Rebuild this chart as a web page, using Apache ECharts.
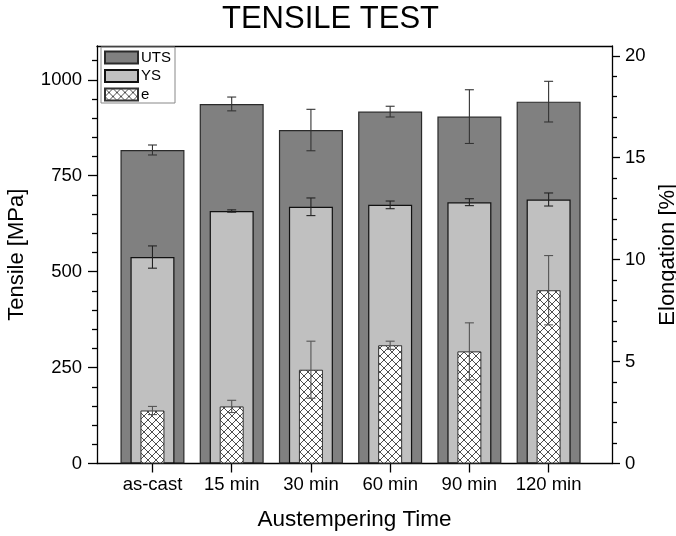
<!DOCTYPE html>
<html>
<head>
<meta charset="utf-8">
<script src="https://cdn.jsdelivr.net/npm/echarts@6/dist/echarts.min.js"></script>
<style>
html,body{margin:0;padding:0;background:#fff;}
#chart{width:676px;height:536px;}
</style>
</head>
<body>
<div id="chart"></div>
<script>
// ---- data ----
const categories = ['as-cast', '15 min', '30 min', '60 min', '90 min', '120 min'];
const utsValues = [817, 937, 869, 917, 904, 943];
const utsErrors = [13, 18, 54, 14, 70, 53];
const ysValues = [538, 658, 669, 674, 681, 688];
const ysErrors = [29, 3, 23, 10, 9, 17];
const elongValues = [2.6, 2.8, 4.6, 5.8, 5.5, 8.5];
const elongErrors = [0.2, 0.3, 1.4, 0.2, 1.4, 1.7];
const tensileTicks = [0, 250, 500, 750, 1000];
const tensileMinorTicks = [50, 100, 150, 200, 300, 350, 400, 450, 550, 600, 650, 700, 800, 850, 900, 950, 1050];
const elongTicks = [0, 5, 10, 15, 20];
const elongMinorTicks = [1, 2, 3, 4, 6, 7, 8, 9, 11, 12, 13, 14, 16, 17, 18, 19];

const FONT = '"Liberation Sans", Arial, sans-serif';
const positions = categories.map((c, i) => i + 1);

// hatch pattern for elongation bars
const hatch = document.createElement('canvas');
hatch.width = 8; hatch.height = 8;
(function () {
  const g = hatch.getContext('2d');
  g.fillStyle = '#ffffff';
  g.fillRect(0, 0, 8, 8);
  g.strokeStyle = '#3a3a3a';
  g.lineWidth = 0.9;
  g.beginPath();
  g.moveTo(0, 0); g.lineTo(8, 8);
  g.moveTo(8, 0); g.lineTo(0, 8);
  g.stroke();
})();

function pairs(vals) { return vals.map((v, i) => [positions[i], v]); }
function errData(vals, errs) { return vals.map((v, i) => [positions[i], v - errs[i], v + errs[i]]); }

function errorRender(color) {
  return function (params, api) {
    const x = api.value(0);
    const lo = api.coord([x, api.value(1)]);
    const hi = api.coord([x, api.value(2)]);
    const w = 4.5;
    const st = { stroke: color, lineWidth: 1.1 };
    return {
      type: 'group',
      children: [
        { type: 'line', shape: { x1: hi[0], y1: hi[1], x2: lo[0], y2: lo[1] }, style: st },
        { type: 'line', shape: { x1: hi[0] - w, y1: hi[1], x2: hi[0] + w, y2: hi[1] }, style: st },
        { type: 'line', shape: { x1: lo[0] - w, y1: lo[1], x2: lo[0] + w, y2: lo[1] }, style: st }
      ]
    };
  };
}

const xBase = { type: 'value', min: 0.3, max: 6.8, splitLine: { show: false } };
const lineStyle = { color: '#000', width: 1.3 };
const plain = v => String(v);

const chart = echarts.init(document.getElementById('chart'), null, { renderer: 'canvas' });
chart.setOption({
  animation: false,
  backgroundColor: '#fff',
  title: {
    text: 'TENSILE TEST',
    left: 222, top: 4, padding: 0,
    textStyle: { fontFamily: FONT, fontSize: 31, fontWeight: 'normal', color: '#000' }
  },
  legend: {
    data: ['UTS', 'YS', 'e'],
    orient: 'vertical',
    left: 101, top: 47,
    itemWidth: 33, itemHeight: 12, itemGap: 3.5,
    padding: [3, 4, 1, 3],
    borderColor: '#888', borderWidth: 1,
    icon: 'rect',
    textStyle: { fontFamily: FONT, fontSize: 15, color: '#000', padding: [0, 0, 0, -2] }
  },
  grid: { left: 97, right: 64, top: 46, bottom: 72.5, containLabel: false, outerBoundsMode: 'none' },
  xAxis: [
    Object.assign({}, xBase, {
      position: 'bottom',
      name: 'Austempering Time', nameLocation: 'middle', nameGap: 45,
      nameTextStyle: { fontFamily: FONT, fontSize: 22.5, color: '#000' },
      axisLine: { show: true, onZero: false, lineStyle: lineStyle },
      axisTick: { show: true, customValues: positions, length: 9, lineStyle: lineStyle },
      axisLabel: {
        customValues: positions, margin: 12,
        fontFamily: FONT, fontSize: 18.5, color: '#000',
        formatter: v => categories[Math.round(v) - 1]
      }
    }),
    Object.assign({}, xBase, {
      position: 'top',
      axisLine: { show: true, onZero: false, lineStyle: lineStyle },
      axisTick: { show: false }, axisLabel: { show: false }
    }),
    Object.assign({}, xBase, { show: false })
  ],
  yAxis: [
    {
      type: 'value', position: 'left', min: 0, max: 1088,
      name: 'Tensile [MPa]', nameLocation: 'middle', nameGap: 69, nameRotate: 90,
      nameTextStyle: { fontFamily: FONT, fontSize: 22, color: '#000' },
      axisLine: { show: true, onZero: false, lineStyle: lineStyle },
      axisTick: { show: true, customValues: tensileTicks, length: 9, lineStyle: lineStyle },
      axisLabel: { customValues: tensileTicks, margin: 15, fontFamily: FONT, fontSize: 18.5, color: '#000', formatter: plain },
      splitLine: { show: false }
    },
    {
      type: 'value', position: 'right', min: 0, max: 20.48,
      name: 'Elongation [%]', nameLocation: 'middle', nameGap: 39, nameRotate: 90,
      nameTextStyle: { fontFamily: FONT, fontSize: 22, color: '#000' },
      axisLine: { show: true, onZero: false, lineStyle: lineStyle },
      axisTick: { show: true, customValues: elongTicks, length: 8, lineStyle: lineStyle },
      axisLabel: { customValues: elongTicks, margin: 13, fontFamily: FONT, fontSize: 18.5, color: '#000', formatter: plain },
      splitLine: { show: false }
    },
    {
      type: 'value', position: 'left', min: 0, max: 1088,
      axisLine: { show: false },
      axisTick: { show: true, customValues: tensileMinorTicks, length: 5, lineStyle: lineStyle },
      axisLabel: { show: false }, splitLine: { show: false }
    },
    {
      type: 'value', position: 'right', min: 0, max: 20.48,
      axisLine: { show: false },
      axisTick: { show: true, customValues: elongMinorTicks, length: 5, lineStyle: lineStyle },
      axisLabel: { show: false }, splitLine: { show: false }
    }
  ],
  series: [
    {
      name: 'UTS', type: 'bar', xAxisIndex: 0, yAxisIndex: 0,
      barWidth: 64, data: pairs(utsValues),
      itemStyle: { color: '#808080', borderColor: '#2a2a2a', borderWidth: 1.2 }
    },
    {
      name: 'YS', type: 'bar', xAxisIndex: 1, yAxisIndex: 0,
      barWidth: 44, data: pairs(ysValues),
      itemStyle: { color: '#c0c0c0', borderColor: '#111', borderWidth: 1.2 }
    },
    {
      name: 'e', type: 'bar', xAxisIndex: 2, yAxisIndex: 1,
      barWidth: 24, data: pairs(elongValues),
      itemStyle: { color: { image: hatch, repeat: 'repeat' }, borderColor: '#333', borderWidth: 1 }
    },
    {
      name: 'UTS err', type: 'custom', xAxisIndex: 0, yAxisIndex: 0,
      renderItem: errorRender('#333'), encode: { x: 0, y: [1, 2] },
      data: errData(utsValues, utsErrors), z: 5
    },
    {
      name: 'YS err', type: 'custom', xAxisIndex: 0, yAxisIndex: 0,
      renderItem: errorRender('#222'), encode: { x: 0, y: [1, 2] },
      data: errData(ysValues, ysErrors), z: 5
    },
    {
      name: 'e err', type: 'custom', xAxisIndex: 0, yAxisIndex: 1,
      renderItem: errorRender('#555'), encode: { x: 0, y: [1, 2] },
      data: errData(elongValues, elongErrors), z: 5
    }
  ]
});
</script>
</body>
</html>
